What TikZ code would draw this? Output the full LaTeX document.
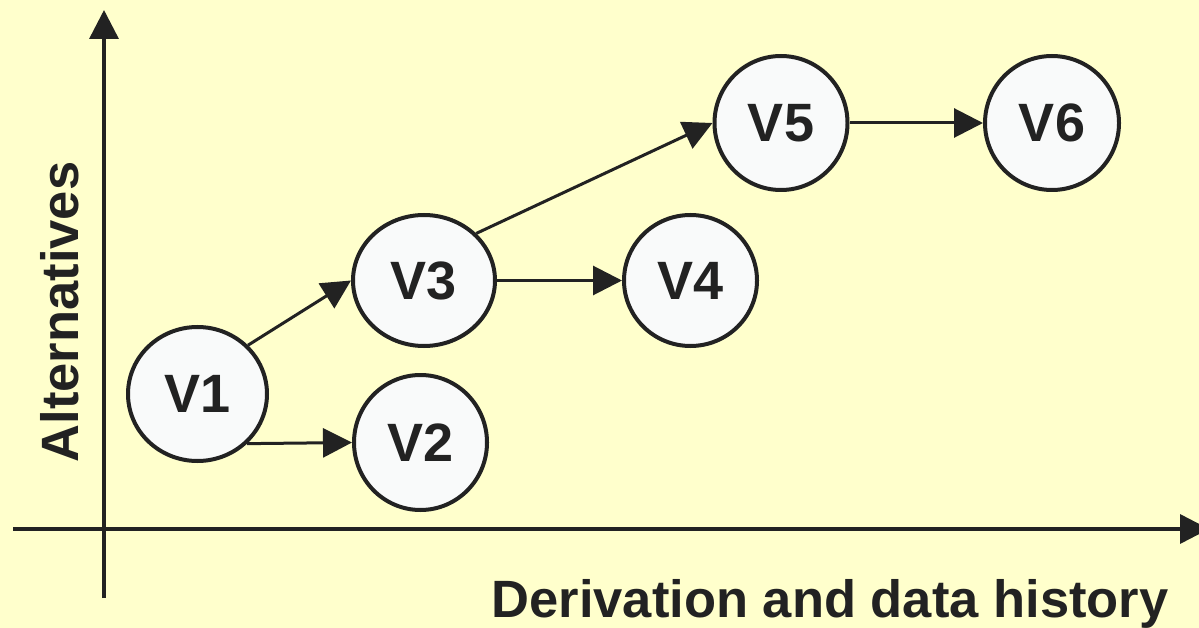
\documentclass[tikz,border=0pt]{standalone}
\usepackage{fontspec}
\setmainfont{Liberation Sans}
\usetikzlibrary{arrows.meta,shapes.geometric}
\definecolor{paper}{HTML}{FFFFCC}
\definecolor{ink}{HTML}{222222}
\definecolor{disc}{HTML}{F9FAFA}
\begin{document}
\begin{tikzpicture}[x=1pt,y=-1pt,
  version/.style={ellipse,draw=ink,fill=disc,line width=4pt,inner sep=0pt,
    text=ink,font=\fontsize{54}{60}\selectfont\bfseries},
  link/.style={draw=ink,line width=3pt,-{Triangle[length=29pt,width=29pt]}},
  axis/.style={draw=ink,line width=3.5pt,-{Triangle[length=29pt,width=29pt]}},
  axislabel/.style={text=ink,inner sep=0pt,font=\fontsize{52.5}{60}\selectfont\bfseries}]
\clip (0,0) rectangle (1199,628);
\fill[paper] (0,0) rectangle (1199,628);

% axes
\coordinate (ybot) at (104,598);
\coordinate (ytop) at (104,10);
\coordinate (xleft) at (13,529);
\coordinate (xright) at (1209,529);
\draw[axis] (ybot) -- (ytop);
\draw[axis] (xleft) -- (xright);

\node[axislabel,rotate=90,anchor=base] (alt) at (78,312) {Alternatives};
\node[axislabel,anchor=base] (hist) at (830,617) {Derivation and data history};

% versions
\node[version,minimum width=139pt,minimum height=134pt] (v1) at (197.5,394) {V1};
\node[version,minimum width=133pt,minimum height=135pt] (v2) at (420.5,442.5) {V2};
\node[version,minimum width=142pt,minimum height=131pt] (v3) at (424,280.5) {V3};
\node[version,minimum width=133pt,minimum height=131pt] (v4) at (690.5,280.5) {V4};
\node[version,minimum width=133pt,minimum height=134pt] (v5) at (781,123) {V5};
\node[version,minimum width=134pt,minimum height=134pt] (v6) at (1052,123) {V6};

% derivations
\draw[link] (v1.-45) -- (v2.west);
\draw[link] (v1.44) -- (v3.west);
\draw[link] (v3.east) -- (v4.west);
\draw[link] (v3.42) -- (v5.west);
\draw[link] (v5.east) -- (v6.west);
\end{tikzpicture}
\end{document}
